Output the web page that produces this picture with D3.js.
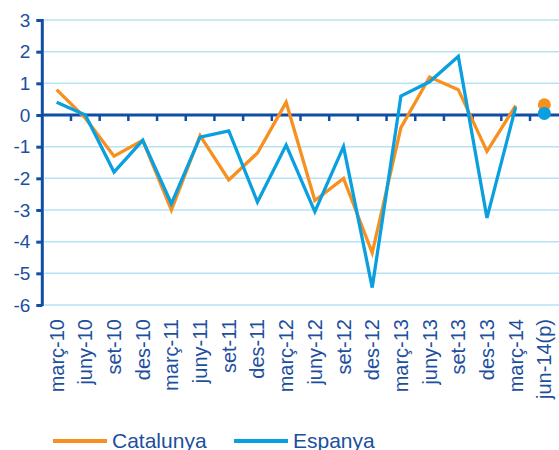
<!DOCTYPE html>
<html>
<head>
<meta charset="utf-8">
<script src="https://cdn.jsdelivr.net/npm/d3@7"></script>
<style>
  body { margin: 0; background: #fff; }
  svg { display: block; font-family: "Liberation Sans", Arial, sans-serif; }
</style>
</head>
<body>
<svg id="chart"></svg>
<script>
const categories = [
  "març-10", "juny-10", "set-10", "des-10",
  "març-11", "juny-11", "set-11", "des-11",
  "març-12", "juny-12", "set-12", "des-12",
  "març-13", "juny-13", "set-13", "des-13",
  "març-14", "jun-14(p)"
];
// last value (jun-14(p)) is a provisional point shown as a dot only
const catalunya = [0.8, -0.1, -1.3, -0.8, -3.0, -0.65, -2.05, -1.2, 0.4, -2.7, -2.0, -4.35, -0.4, 1.2, 0.8, -1.15, 0.3, 0.32];
const espanya = [0.4, 0.0, -1.8, -0.8, -2.8, -0.7, -0.5, -2.75, -0.95, -3.05, -1.0, -5.45, 0.6, 1.05, 1.85, -3.25, 0.25, 0.05];
const yTicks = [3, 2, 1, 0, -1, -2, -3, -4, -5, -6];
const seriesNames = ["Catalunya", "Espanya"];

const width = 559;
const height = 450;
const plotLeft = 42.3;
const plotRight = 558.7;
const plotTop = 20;
const plotBottom = 305;

const axisColor = "#0f4ea3";
const textColor = "#1d4f9e";
const gridColor = "#b6e3f6";
const colors = ["#f7901e", "#0aa0e0"];

const svg = d3.select("#chart").attr("width", width).attr("height", height);

const x = d3.scaleBand().domain(categories).range([plotLeft, plotRight]).padding(0);
const y = d3.scaleLinear().domain([-6, 3]).range([plotBottom, plotTop]);
const bw = x.bandwidth();

// Horizontal gridlines
svg.append("g")
  .selectAll("line")
  .data(yTicks.filter((d) => d !== 0))
  .enter()
  .append("line")
  .attr("x1", plotLeft + 2)
  .attr("x2", width)
  .attr("y1", (d) => y(d))
  .attr("y2", (d) => y(d))
  .attr("stroke", gridColor)
  .attr("stroke-width", 1.5);

// Zero line with downward ticks between categories
svg.append("line")
  .attr("x1", plotLeft)
  .attr("x2", width)
  .attr("y1", y(0))
  .attr("y2", y(0))
  .attr("stroke", axisColor)
  .attr("stroke-width", 3);

svg.append("g")
  .selectAll("line")
  .data(categories.slice(1))
  .enter()
  .append("line")
  .attr("x1", (d) => x(d))
  .attr("x2", (d) => x(d))
  .attr("y1", y(0))
  .attr("y2", y(0) + 6)
  .attr("stroke", axisColor)
  .attr("stroke-width", 2.5);

// Y axis (plain hyphen for negatives, as in the source)
const yAxis = svg.append("g")
  .attr("transform", `translate(${plotLeft},0)`)
  .call(d3.axisLeft(y).tickValues(yTicks).tickSize(6).tickPadding(6).tickFormat((d) => String(d)));
yAxis.select(".domain")
  .attr("d", `M0,${plotTop - 1}V${plotBottom + 1}`)
  .attr("stroke", axisColor)
  .attr("stroke-width", 3);
yAxis.selectAll(".tick line").attr("stroke", axisColor).attr("stroke-width", 3);
yAxis.selectAll(".tick text")
  .attr("fill", textColor)
  .style("font-size", "19px")
  .style("font-family", "'Liberation Sans', Arial, sans-serif");

// Category labels (rotated)
svg.append("g")
  .selectAll("text")
  .data(categories)
  .enter()
  .append("text")
  .attr("transform", (d) => `translate(${x(d) + bw / 2},${plotBottom + 14}) rotate(-90)`)
  .attr("text-anchor", "end")
  .attr("dy", "0.35em")
  .attr("fill", textColor)
  .style("font-size", "20px")
  .text((d) => d);

// Series lines and provisional dots
const line = d3.line()
  .x((d, i) => x(categories[i]) + bw / 2)
  .y((d) => y(d));

[catalunya, espanya].forEach((values, k) => {
  svg.append("path")
    .datum(values.slice(0, values.length - 1))
    .attr("d", line)
    .attr("fill", "none")
    .attr("stroke", colors[k])
    .attr("stroke-width", 3.3);
});

[catalunya, espanya].forEach((values, k) => {
  const last = categories.length - 1;
  svg.append("circle")
    .attr("cx", x(categories[last]) + bw / 2)
    .attr("cy", y(values[last]))
    .attr("r", 6.5)
    .attr("fill", colors[k]);
});

// Legend
const legendX = [53, 234];
const legend = svg.append("g")
  .selectAll("g")
  .data(seriesNames)
  .enter()
  .append("g")
  .attr("transform", (d, i) => `translate(${legendX[i]},441)`);

legend.append("line")
  .attr("x1", 0)
  .attr("x2", 54)
  .attr("stroke", (d, i) => colors[i])
  .attr("stroke-width", 4);

legend.append("text")
  .attr("x", 59)
  .attr("y", 7)
  .attr("fill", textColor)
  .style("font-size", "21px")
  .text((d) => d);
</script>
</body>
</html>
